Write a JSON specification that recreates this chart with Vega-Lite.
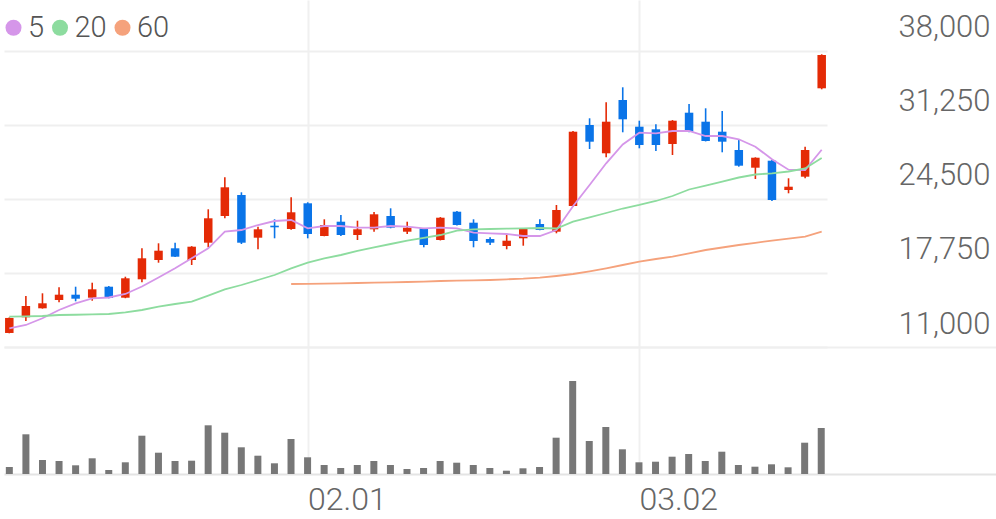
{
  "$schema": "https://vega.github.io/schema/vega-lite/v6.json",
  "padding": {"left": 4, "top": 0, "right": 0, "bottom": 0},
  "background": "white",
  "config": {"view": {"stroke": null}, "font": "Roboto"},
  "data": {"values": [
    {"date": "01.04", "open": 12280, "high": 13700, "low": 12250, "close": 13650, "volume": 700000, "5": 12706, "20": 13764, "60": null},
    {"date": "01.05", "open": 13709, "high": 15652, "low": 13372, "close": 14740, "volume": 3970000, "5": 13007, "20": 13800, "60": null},
    {"date": "01.06", "open": 14530, "high": 15898, "low": 14500, "close": 14986, "volume": 1400000, "5": 13618, "20": 13828, "60": null},
    {"date": "01.09", "open": 15287, "high": 16446, "low": 15077, "close": 15771, "volume": 1300000, "5": 14375, "20": 13919, "60": null},
    {"date": "01.10", "open": 15771, "high": 16500, "low": 15168, "close": 15406, "volume": 870000, "5": 14986, "20": 13940, "60": null},
    {"date": "01.11", "open": 15497, "high": 16865, "low": 15223, "close": 16263, "volume": 1570000, "5": 15442, "20": 13970, "60": null},
    {"date": "01.12", "open": 16500, "high": 16560, "low": 15440, "close": 15470, "volume": 400000, "5": 15515, "20": 14010, "60": null},
    {"date": "01.13", "open": 15497, "high": 17412, "low": 15450, "close": 17267, "volume": 1170000, "5": 15835, "20": 14165, "60": null},
    {"date": "01.16", "open": 17175, "high": 20003, "low": 16902, "close": 19091, "volume": 3830000, "5": 16519, "20": 14375, "60": null},
    {"date": "01.17", "open": 18936, "high": 20459, "low": 18690, "close": 19784, "volume": 2130000, "5": 17340, "20": 14676, "60": null},
    {"date": "01.18", "open": 20003, "high": 20514, "low": 19200, "close": 19237, "volume": 1300000, "5": 18179, "20": 14922, "60": null},
    {"date": "01.19", "open": 18936, "high": 20200, "low": 18480, "close": 20149, "volume": 1330000, "5": 19091, "20": 15132, "60": null},
    {"date": "01.20", "open": 20514, "high": 23561, "low": 20094, "close": 22740, "volume": 4870000, "5": 20003, "20": 15679, "60": null},
    {"date": "01.25", "open": 22949, "high": 26479, "low": 22740, "close": 25567, "volume": 4130000, "5": 21517, "20": 16263, "60": null},
    {"date": "01.26", "open": 24865, "high": 25111, "low": 20395, "close": 20514, "volume": 2670000, "5": 21672, "20": 16655, "60": null},
    {"date": "01.27", "open": 20970, "high": 21973, "low": 19912, "close": 21736, "volume": 1830000, "5": 22128, "20": 17112, "60": null},
    {"date": "01.30", "open": 22065, "high": 22648, "low": 20915, "close": 21919, "volume": 1070000, "5": 22493, "20": 17568, "60": null},
    {"date": "01.31", "open": 21764, "high": 24655, "low": 21700, "close": 23287, "volume": 3500000, "5": 22584, "20": 18179, "60": 16747},
    {"date": "02.01", "open": 24108, "high": 24200, "low": 20915, "close": 21307, "volume": 1670000, "5": 21827, "20": 18690, "60": 16765},
    {"date": "02.02", "open": 21125, "high": 22648, "low": 21100, "close": 22128, "volume": 900000, "5": 22037, "20": 19091, "60": 16780},
    {"date": "02.03", "open": 22429, "high": 23041, "low": 21130, "close": 21216, "volume": 600000, "5": 22037, "20": 19392, "60": 16810},
    {"date": "02.06", "open": 21216, "high": 22521, "low": 20760, "close": 21736, "volume": 900000, "5": 21882, "20": 19757, "60": 16840},
    {"date": "02.07", "open": 21736, "high": 23314, "low": 21517, "close": 23104, "volume": 1300000, "5": 21882, "20": 20094, "60": 16870},
    {"date": "02.08", "open": 22949, "high": 23652, "low": 21830, "close": 21882, "volume": 900000, "5": 22037, "20": 20395, "60": 16900},
    {"date": "02.09", "open": 21517, "high": 22429, "low": 21307, "close": 21882, "volume": 500000, "5": 21973, "20": 20696, "60": 16929},
    {"date": "02.10", "open": 21827, "high": 21860, "low": 20094, "close": 20304, "volume": 600000, "5": 21827, "20": 20961, "60": 16960},
    {"date": "02.13", "open": 20760, "high": 22850, "low": 20720, "close": 22794, "volume": 1300000, "5": 21882, "20": 21216, "60": 17020},
    {"date": "02.14", "open": 23341, "high": 23400, "low": 22080, "close": 22128, "volume": 1130000, "5": 21827, "20": 21608, "60": 17050},
    {"date": "02.15", "open": 22338, "high": 22648, "low": 20094, "close": 20669, "volume": 900000, "5": 21426, "20": 21736, "60": 17080},
    {"date": "02.16", "open": 20851, "high": 21007, "low": 20304, "close": 20514, "volume": 600000, "5": 21371, "20": 21764, "60": 17112},
    {"date": "02.17", "open": 20213, "high": 21216, "low": 19912, "close": 20696, "volume": 330000, "5": 21307, "20": 21790, "60": 17175},
    {"date": "02.20", "open": 20915, "high": 21800, "low": 20240, "close": 21764, "volume": 570000, "5": 21125, "20": 21827, "60": 17230},
    {"date": "02.21", "open": 22220, "high": 22648, "low": 21640, "close": 21672, "volume": 700000, "5": 21125, "20": 21855, "60": 17321},
    {"date": "02.22", "open": 21517, "high": 23953, "low": 21371, "close": 23497, "volume": 3630000, "5": 21672, "20": 21809, "60": 17476},
    {"date": "02.23", "open": 23862, "high": 30700, "low": 23800, "close": 30639, "volume": 9300000, "5": 23834, "20": 22429, "60": 17659},
    {"date": "02.24", "open": 31250, "high": 31861, "low": 29061, "close": 29727, "volume": 3300000, "5": 25777, "20": 22813, "60": 17905},
    {"date": "02.27", "open": 28669, "high": 33321, "low": 28304, "close": 31551, "volume": 4700000, "5": 27756, "20": 23223, "60": 18179},
    {"date": "02.28", "open": 33530, "high": 34689, "low": 30584, "close": 31770, "volume": 2470000, "5": 29471, "20": 23633, "60": 18480},
    {"date": "03.02", "open": 31095, "high": 31642, "low": 29125, "close": 29426, "volume": 1170000, "5": 30548, "20": 23953, "60": 18781},
    {"date": "03.03", "open": 30858, "high": 31314, "low": 28878, "close": 29426, "volume": 1230000, "5": 30493, "20": 24318, "60": 19027},
    {"date": "03.06", "open": 29517, "high": 31700, "low": 28514, "close": 31642, "volume": 1730000, "5": 30703, "20": 24774, "60": 19237},
    {"date": "03.07", "open": 32372, "high": 33166, "low": 30600, "close": 30639, "volume": 2000000, "5": 30703, "20": 25367, "60": 19547},
    {"date": "03.08", "open": 31551, "high": 32773, "low": 29750, "close": 29791, "volume": 1300000, "5": 30247, "20": 25731, "60": 19848},
    {"date": "03.09", "open": 30639, "high": 32527, "low": 28760, "close": 29727, "volume": 2230000, "5": 30247, "20": 26096, "60": 20076},
    {"date": "03.10", "open": 28970, "high": 29973, "low": 27450, "close": 27538, "volume": 900000, "5": 29946, "20": 26461, "60": 20304},
    {"date": "03.13", "open": 27355, "high": 28300, "low": 26324, "close": 28267, "volume": 730000, "5": 29271, "20": 26735, "60": 20505},
    {"date": "03.14", "open": 27994, "high": 28050, "low": 24318, "close": 24409, "volume": 970000, "5": 28121, "20": 26844, "60": 20696},
    {"date": "03.15", "open": 25321, "high": 26388, "low": 25020, "close": 25622, "volume": 670000, "5": 27173, "20": 27008, "60": 20879},
    {"date": "03.16", "open": 26534, "high": 29271, "low": 26388, "close": 28970, "volume": 3130000, "5": 27145, "20": 27282, "60": 21061},
    {"date": "03.17", "open": 34598, "high": 37700, "low": 34506, "close": 37635, "volume": 4600000, "5": 28997, "20": 28240, "60": 21517}
  ]},
  "spacing": 0,
  "resolve": {"scale": {"x": "independent", "y": "independent"}},
  "vconcat": [
    {
      "width": 823,
      "height": 347,
      "encoding": {
        "x": {
          "field": "date", "type": "ordinal",
          "scale": {"type": "point", "padding": 0.32},
          "axis": {"values": ["02.01", "03.02"], "grid": true, "gridColor": "#f0f0f0", "gridWidth": 2, "labels": false, "ticks": false, "domain": false, "title": null}
        }
      },
      "layer": [
        {
          "mark": {"type": "rule", "strokeWidth": 1.6},
          "encoding": {
            "y": {
              "field": "low", "type": "quantitative",
              "scale": {"domain": [11000, 42652], "zero": false, "nice": false},
              "axis": {"orient": "right", "values": [11000, 17750, 24500, 31250, 38000], "format": ",.0f", "title": null, "domain": false, "ticks": false, "tickSize": 0, "grid": true, "gridColor": "#efefef", "gridWidth": 2, "labelAlign": "right", "labelPadding": 163, "labelFontSize": 31, "labelColor": "#666666", "labelFont": "Roboto", "labelFontWeight": 300, "labelBaseline": "alphabetic", "labelOffset": -14}
            },
            "y2": {"field": "high"},
            "color": {"condition": {"test": "datum.close >= datum.open", "value": "#e42a06"}, "value": "#0a74e8"}
          }
        },
        {
          "mark": {"type": "rule", "strokeWidth": 8.5, "strokeCap": "butt"},
          "encoding": {
            "y": {"field": "open", "type": "quantitative"},
            "y2": {"field": "close"},
            "color": {"condition": {"test": "datum.close >= datum.open", "value": "#e42a06"}, "value": "#0a74e8"}
          }
        },
        {
          "transform": [{"fold": ["5", "20", "60"], "as": ["ma", "price"]}],
          "mark": {"type": "line", "strokeWidth": 1.8},
          "encoding": {
            "y": {"field": "price", "type": "quantitative"},
            "color": {
              "field": "ma", "type": "nominal",
              "scale": {"domain": ["5", "20", "60"], "range": ["#d596e9", "#8ddc9f", "#f5a27c"]},
              "legend": {
                "orient": "none", "legendX": 0, "legendY": 13, "direction": "horizontal",
                "gridAlign": "each",
                "title": null, "padding": 0, "symbolType": "circle", "symbolSize": 256,
                "symbolOffset": -5,
                "symbolStrokeWidth": 0, "labelFontSize": 29, "labelColor": "#555555", "labelFont": "Roboto",
                "labelFontWeight": 300,
                "labelOffset": 0, "columnPadding": 5.5,
                "encode": {"symbols": {"update": {"fill": {"scale": "color", "field": "value"}, "fillOpacity": {"value": 1}, "stroke": {"value": "transparent"}}}}
              }
            }
          }
        }
      ]
    },
    {
      "width": 992,
      "height": 127,
      "mark": {"type": "rule", "strokeWidth": 7, "strokeCap": "butt", "color": "#777777"},
      "encoding": {
        "x": {
          "field": "date", "type": "ordinal",
          "scale": {
            "type": "point", "padding": 0.435, "align": 0.37,
            "domain": ["01.04", "01.05", "01.06", "01.09", "01.10", "01.11", "01.12", "01.13", "01.16", "01.17", "01.18", "01.19", "01.20", "01.25", "01.26", "01.27", "01.30", "01.31", "02.01", "02.02", "02.03", "02.06", "02.07", "02.08", "02.09", "02.10", "02.13", "02.14", "02.15", "02.16", "02.17", "02.20", "02.21", "02.22", "02.23", "02.24", "02.27", "02.28", "03.02", "03.03", "03.06", "03.07", "03.08", "03.09", "03.10", "03.13", "03.14", "03.15", "03.16", "03.17", "03.20", "03.21", "03.22", "03.23", "03.24", "03.27", "03.28", "03.29", "03.30", "03.31"]
          },
          "axis": {"values": ["02.01", "03.02"], "grid": true, "gridColor": "#f0f0f0", "gridWidth": 2, "labels": true, "labelAngle": 0, "labelAlign": "left", "labelFontSize": 32, "labelColor": "#666666", "labelFont": "Roboto", "labelFontWeight": 300, "labelBaseline": "alphabetic", "labelPadding": 35, "ticks": false, "domain": true, "domainColor": "#e4e4e4", "domainWidth": 2, "title": null}
        },
        "y": {
          "field": "volume", "type": "quantitative",
          "scale": {"domain": [0, 12700000], "nice": false},
          "axis": {"values": [12700000], "grid": true, "gridColor": "#efefef", "gridWidth": 2, "labels": false, "ticks": false, "domain": false, "title": null}
        }
      }
    }
  ]
}
